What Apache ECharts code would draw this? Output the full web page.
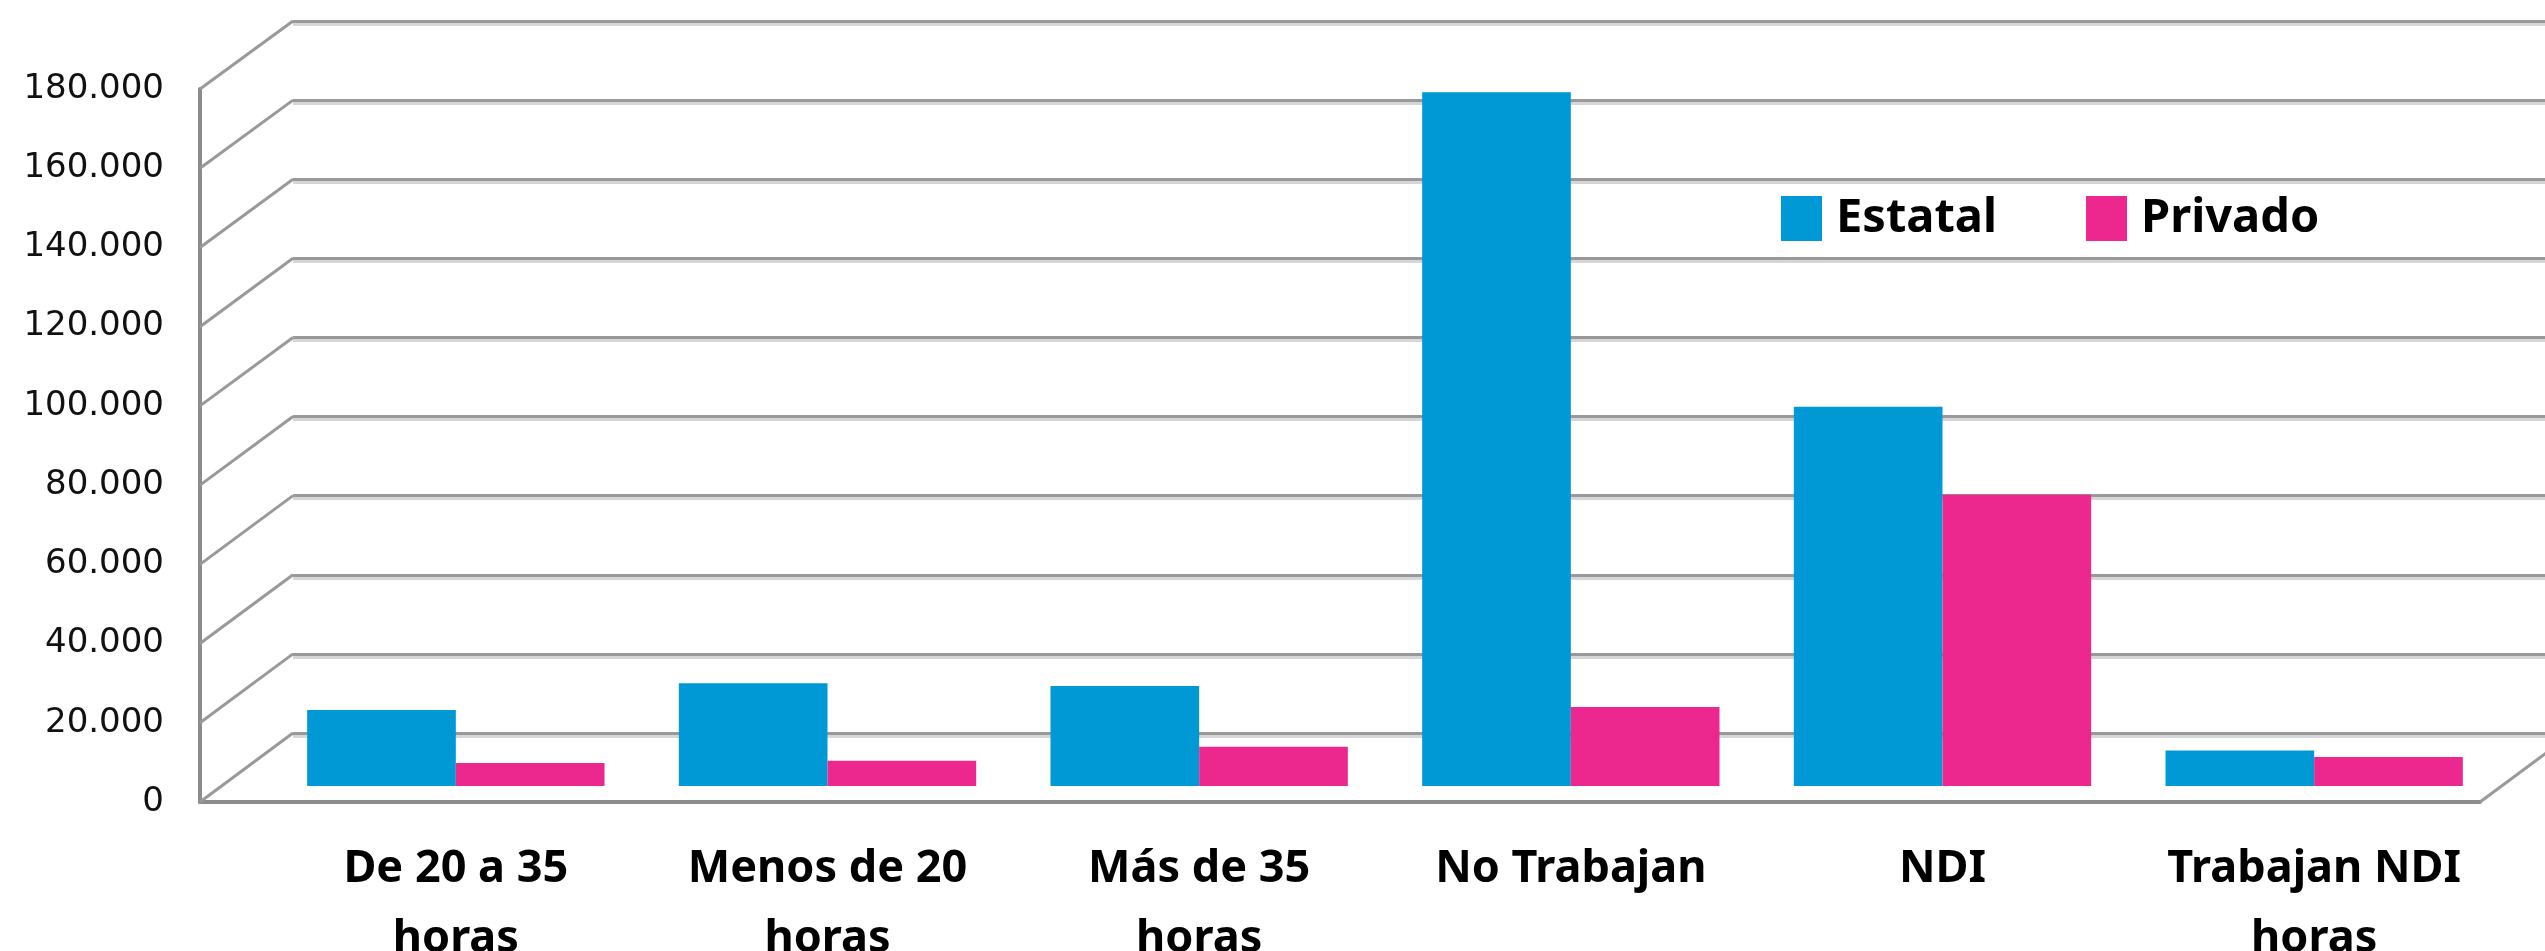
<!DOCTYPE html>
<html>
<head>
<meta charset="utf-8">
<title>Estatal / Privado</title>
<script src="https://cdn.jsdelivr.net/npm/echarts@6/dist/echarts.min.js"></script>
<style>
html, body { margin:0; height:100%; background:#fff; }
</style>
</head>
<body>
<div id="main" style="width:2545px;height:951px;"></div>
<script>
// datos
var categorias = ['De 20 a 35\nhoras', 'Menos de 20\nhoras', 'Más de 35\nhoras', 'No Trabajan', 'NDI', 'Trabajan NDI\nhoras'];
var estatal = [19200, 26000, 25300, 175400, 95900, 9000];
var privado = [5800, 6400, 9900, 20000, 73600, 7300];
var yTicks = [0, 20000, 40000, 60000, 80000, 100000, 120000, 140000, 160000, 180000];
var yMax = 180000;
var yPaso = 20000;

var myChart = echarts.init(document.getElementById('main'));

function miles(v) {
    return String(v).replace(/\B(?=(\d{3})+(?!\d))/g, '.');
}

var gris = '#8c8c8c';

var option = {
    animation: false,
    backgroundColor: '#fff',
    legend: {
        data: ['Estatal', 'Privado'],
        left: 1776,
        top: 190,
        icon: 'rect',
        itemWidth: 41,
        itemHeight: 45,
        itemGap: 89,
        textStyle: {
            fontFamily: 'Noto Sans',
            fontWeight: 'bold',
            fontSize: 47,
            lineHeight: 45,
            color: '#000',
            padding: [0, 0, 0, 9]
        }
    },
    grid: [
        // plano frontal (ejes)
        { left: 200, top: 89, width: 2280, height: 713, outerBoundsMode: 'none' },
        // pared del fondo (lineas de division)
        { left: 293, top: 21, width: 2280, height: 712, outerBoundsMode: 'none' },
        // plano de las barras
        { left: 270, top: 74, width: 2230, height: 712, outerBoundsMode: 'none' }
    ],
    xAxis: [
        {
            gridIndex: 0, type: 'value', min: 0, max: 1,
            axisLine: { show: true, lineStyle: { color: gris, width: 4 } },
            axisTick: { show: false }, axisLabel: { show: false }, splitLine: { show: false }
        },
        {
            gridIndex: 1, type: 'value', min: 0, max: 1,
            axisLine: { show: false }, axisTick: { show: false },
            axisLabel: { show: false }, splitLine: { show: false }
        },
        {
            gridIndex: 2, type: 'category', data: categorias,
            axisLine: { show: false }, axisTick: { show: false },
            axisLabel: {
                interval: 0,
                margin: 48,
                fontFamily: 'Noto Sans',
                fontWeight: 'bold',
                fontSize: 45,
                lineHeight: 70,
                color: '#000'
            }
        }
    ],
    yAxis: [
        {
            gridIndex: 0, type: 'value', min: 0, max: yMax, interval: yPaso,
            axisLine: { show: true, lineStyle: { color: gris, width: 4 } },
            axisTick: { show: false },
            splitLine: { show: false },
            axisLabel: {
                margin: 36,
                fontFamily: 'DejaVu Sans',
                fontSize: 34,
                color: '#111',
                padding: [8, 0, 0, 0],
                formatter: miles
            }
        },
        {
            gridIndex: 1, type: 'value', min: 0, max: yMax, interval: yPaso,
            axisLine: { show: false }, axisTick: { show: false }, axisLabel: { show: false },
            splitLine: {
                show: true,
                lineStyle: { color: '#999', width: 3, shadowColor: '#d6d6d6', shadowOffsetY: 3 }
            }
        },
        {
            gridIndex: 2, type: 'value', min: 0, max: yMax, show: false
        }
    ],
    series: [
        {
            name: 'Estatal',
            type: 'bar',
            xAxisIndex: 2,
            yAxisIndex: 2,
            barWidth: '40%',
            barGap: 0,
            itemStyle: { color: '#0099d6' },
            data: estatal
        },
        {
            name: 'Privado',
            type: 'bar',
            xAxisIndex: 2,
            yAxisIndex: 2,
            barWidth: '40%',
            barGap: 0,
            itemStyle: { color: '#ec288f' },
            data: privado
        }
    ]
};

myChart.setOption(option);

// diagonales entre el plano frontal y la pared del fondo
var lineas = [];
yTicks.forEach(function (v) {
    var a = myChart.convertToPixel({ gridIndex: 0 }, [0, v]);
    var b = myChart.convertToPixel({ gridIndex: 1 }, [0, v]);
    lineas.push({
        type: 'line', z: 1, silent: true,
        shape: { x1: a[0], y1: a[1], x2: b[0], y2: b[1] },
        style: { stroke: '#999', lineWidth: 3 }
    });
});
var c = myChart.convertToPixel({ gridIndex: 0 }, [1, 0]);
var d = myChart.convertToPixel({ gridIndex: 1 }, [1, 0]);
lineas.push({
    type: 'line', z: 1, silent: true,
    shape: { x1: c[0], y1: c[1], x2: d[0], y2: d[1] },
    style: { stroke: '#999', lineWidth: 3 }
});

myChart.setOption({ graphic: lineas });
</script>
</body>
</html>
